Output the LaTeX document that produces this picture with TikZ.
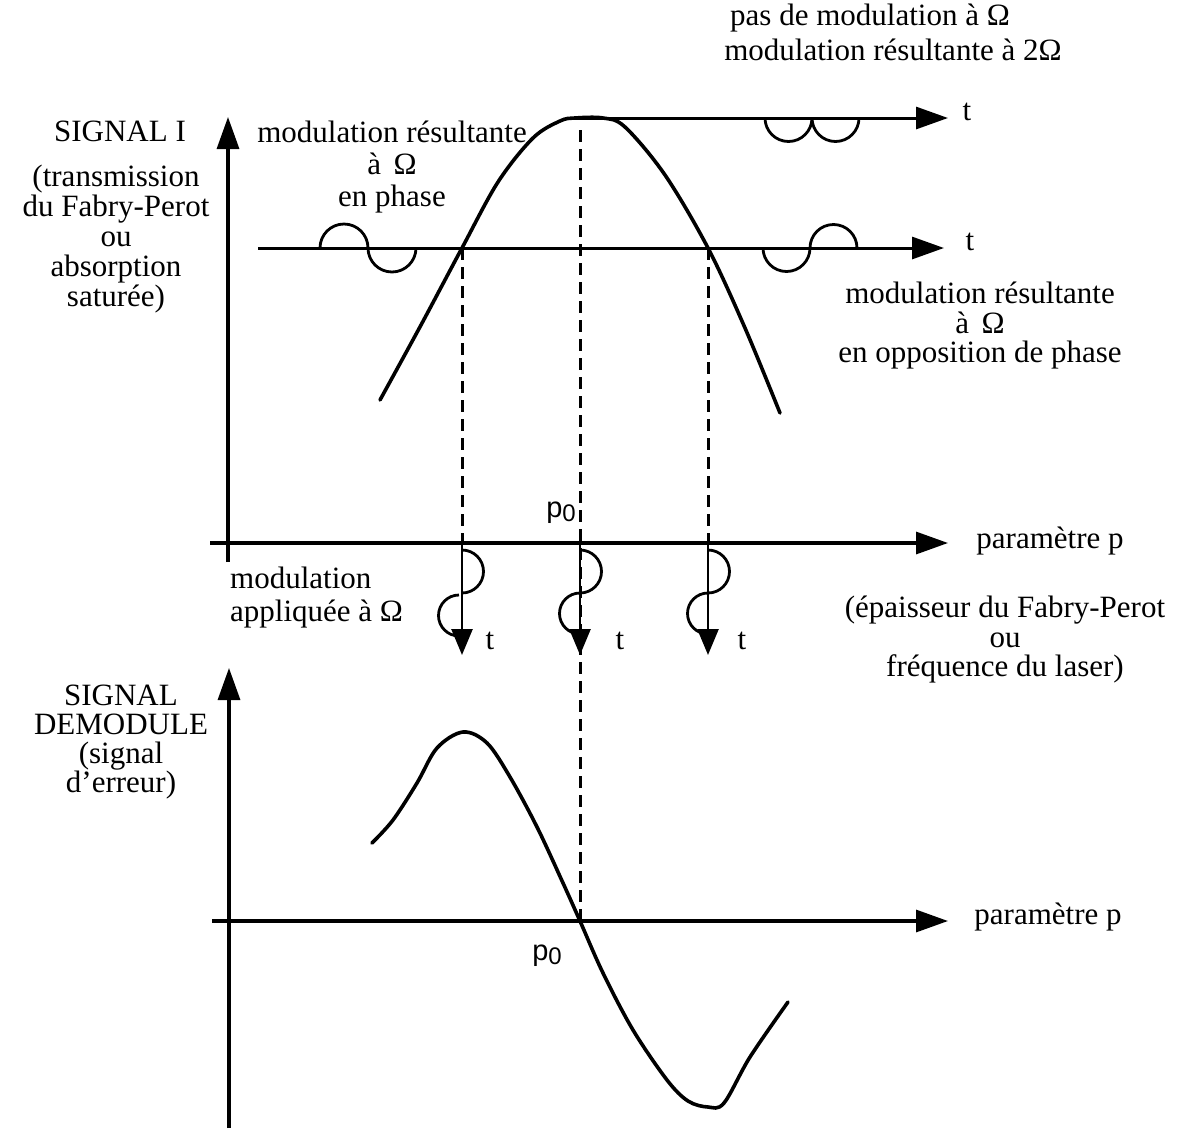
\documentclass[tikz,border=0pt]{standalone}
\usepackage{fontspec}
\setmainfont{Liberation Serif}
\newfontfamily\pfont{Liberation Sans}
\usetikzlibrary{arrows.meta}
\tikzset{
  axis/.style={line width=3.2pt,-{Triangle[length=32pt,width=22pt]}},
  tline/.style={line width=3pt,-{Triangle[length=32pt,width=22pt]}},
  curve/.style={line width=3.6pt,line cap=round,line join=round},
  wave/.style={line width=2.8pt},
  marrow/.style={line width=2.6pt,-{Triangle[length=26pt,width=21pt]}},
  guide/.style={line width=3pt,dash pattern=on 12pt off 7pt},
  lbl/.style={inner sep=0pt,font=\fontsize{31}{31}\selectfont},
}
\begin{document}
\begin{tikzpicture}[x=1pt,y=-1pt]
\useasboundingbox (0,0) rectangle (1189,1128);
% ---------- coordinates
\coordinate (v1b) at (228,562);
\coordinate (v1t) at (228,117);
\coordinate (h1a) at (210,543);
\coordinate (h1b) at (948,543);
\coordinate (tta) at (575,118);
\coordinate (ttb) at (948,118);
\coordinate (tma) at (258,248);
\coordinate (tmb) at (944,248);
\coordinate (x1) at (462,248);
\coordinate (x2) at (580,130);
\coordinate (x3) at (708,248);
\coordinate (y1) at (462,543);
\coordinate (y2) at (580,543);
\coordinate (y3) at (708,543);
\coordinate (z1) at (462,655);
\coordinate (z2) at (580,655);
\coordinate (z3) at (708,655);
\coordinate (p0b) at (580,925);
\coordinate (v2b) at (229,1128);
\coordinate (v2t) at (229,668);
\coordinate (h2a) at (212,921);
\coordinate (h2b) at (948,921);
% ---------- upper axes
\draw[axis] (v1b) -- (v1t);
\draw[axis] (h1a) -- (h1b);
\draw[tline] (tta) -- (ttb);
\draw[tline] (tma) -- (tmb);
% ---------- dashed guides
\draw[guide] (x1) -- (y1);
\draw[guide] (x2) -- (p0b);
\draw[guide] (x3) -- (y3);
% ---------- transmission curve
\draw[curve] plot[smooth,tension=0.55] coordinates {(380,400) (421,325) (462,248) (498,182) (533,138) (560,121) (575,118) (603,118) (625,127) (665,175) (708,248) (745,328) (780,413)};
% ---------- modulations on t axes
\draw[wave] (320,248) arc[start angle=180,end angle=360,radius=24];
\draw[wave] (368,248) arc[start angle=180,end angle=0,radius=24];
\draw[wave] (763,248) arc[start angle=180,end angle=0,radius=23.5];
\draw[wave] (810,248) arc[start angle=180,end angle=360,radius=23.5];
\draw[wave] (765,118) arc[start angle=180,end angle=0,radius=23.5];
\draw[wave] (812,118) arc[start angle=180,end angle=0,radius=23.5];
% ---------- applied modulation arrows
\foreach \a/\b in {y1/z1,y2/z2,y3/z3}{
  \draw[marrow] (\a) -- (\b);
}
\draw[wave] (462,550) arc[start angle=-90,end angle=90,radius=21.5];
\draw[wave] (459,595) arc[start angle=-90,end angle=-270,radius=20.5];
\draw[wave] (580,550) arc[start angle=-90,end angle=90,radius=21.5];
\draw[wave] (580,593) arc[start angle=-90,end angle=-270,radius=20.5];
\draw[wave] (708,550) arc[start angle=-90,end angle=90,radius=21.5];
\draw[wave] (708,593) arc[start angle=-90,end angle=-270,radius=20.5];
% ---------- lower axes
\draw[axis] (v2b) -- (v2t);
\draw[axis] (h2a) -- (h2b);
% ---------- error signal curve
\draw[curve] plot[smooth,tension=0.55] coordinates {(372,843) (393,820) (417,783) (437,748) (463,732) (487,743) (510,777) (537,827) (563,883) (580,921) (603,973) (633,1030) (667,1080) (688,1101) (708,1107) (724,1103) (750,1057) (788,1002)};
% ---------- labels
\node[lbl] (n1) at (870,18) {pas de modulation à Ω};
\node[lbl] (n2) at (893,50) {modulation résultante à 2Ω};
\node[lbl] (tt1) at (967,112) {t};
\node[lbl] (tt2) at (970,242) {t};
\node[lbl] (sig) at (120,131) {SIGNAL I};
\node[lbl,align=center,font=\fontsize{31}{30}\selectfont] (sigx) at (116,239) {(transmission\\du Fabry-Perot\\ou\\absorption\\saturée)};
\node[lbl,align=center,font=\fontsize{31}{32}\selectfont] (inph) at (392,167) {modulation résultante\\à\hspace{0.4em}Ω\hspace{1.2em}\\en phase};
\node[lbl,align=center,font=\fontsize{31}{29.5}\selectfont] (opph) at (980,326) {modulation résultante\\à\hspace{0.4em}Ω\hspace{0.6em}\\en opposition de phase};
\node[lbl] (par1) at (1050,541) {paramètre p};
\node[lbl,align=center,font=\fontsize{31}{29.5}\selectfont] (epa) at (1005,640) {(épaisseur du Fabry-Perot\\ou\\fréquence du laser)};
\node[lbl,align=left,anchor=west,font=\fontsize{31}{33}\selectfont] (appl) at (230,598) {modulation\\appliquée à Ω};
\node[lbl] (t1) at (490,641) {t};
\node[lbl] (t2) at (620,641) {t};
\node[lbl] (t3) at (742,641) {t};
\node[lbl,font=\pfont\fontsize{29}{29}\selectfont] (p0u) at (561,513) {p\raisebox{-4pt}{\fontsize{24}{24}\selectfont 0}};
\node[lbl,align=center,font=\fontsize{31}{29}\selectfont] (dem) at (121,742) {SIGNAL\\DEMODULE\\(signal\\d'erreur)};
\node[lbl] (par2) at (1048,917) {paramètre p};
\node[lbl,font=\pfont\fontsize{29}{29}\selectfont] (p0d) at (547,956) {p\raisebox{-4pt}{\fontsize{24}{24}\selectfont 0}};
\end{tikzpicture}
\end{document}
